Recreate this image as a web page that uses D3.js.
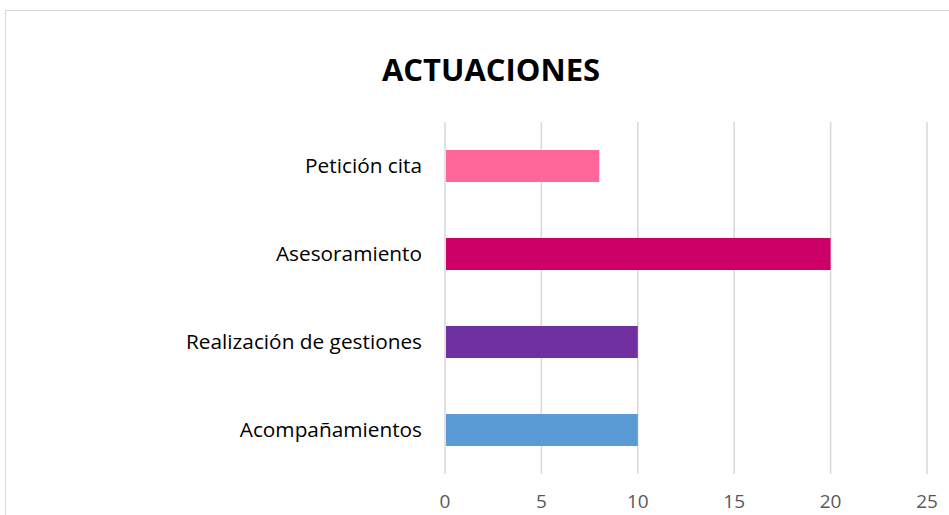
<!DOCTYPE html>
<html>
<head>
<meta charset="utf-8">
<script src="https://cdn.jsdelivr.net/npm/d3@7"></script>
<style>
  html, body { margin: 0; padding: 0; background: #fff; }
  svg { display: block; }
</style>
</head>
<body>
<svg id="chart" width="949" height="515"></svg>
<script>
// Actuaciones por tipo
const categories = ["Petición cita", "Asesoramiento", "Realización de gestiones", "Acompañamientos"];
const values = [8, 20, 10, 10];
const colors = ["#FF6699", "#CC0066", "#7030A0", "#5B9BD5"];
const tickValues = [0, 5, 10, 15, 20, 25];
const title = "ACTUACIONES";

const svg = d3.select("#chart");

// Chart area outline
svg.append("rect")
  .attr("x", 5.5).attr("y", 10.5)
  .attr("width", 1200).attr("height", 1200)
  .attr("fill", "#fff")
  .attr("stroke", "#D9D9D9").attr("stroke-width", 1);

const plot = { left: 445, right: 927, top: 122, bottom: 474 };

const x = d3.scaleLinear().domain([0, 25]).range([plot.left, plot.right]);
const y = d3.scaleBand().domain(categories).range([plot.top, plot.bottom]).paddingInner(0.636).paddingOuter(0.318);

// Vertical gridlines
svg.append("g")
  .selectAll("line")
  .data(tickValues)
  .join("line")
  .attr("x1", d => x(d)).attr("x2", d => x(d))
  .attr("y1", plot.top).attr("y2", plot.bottom)
  .attr("stroke", "#D9D9D9").attr("stroke-width", 1.5);

// Bars
svg.append("g")
  .selectAll("rect")
  .data(categories)
  .join("rect")
  .attr("x", x(0) + 1)
  .attr("y", d => y(d))
  .attr("width", (d, i) => x(values[i]) - x(0) - 1)
  .attr("height", y.bandwidth())
  .attr("fill", (d, i) => colors[i]);

// Category labels
svg.append("g")
  .selectAll("text")
  .data(categories)
  .join("text")
  .attr("x", plot.left - 23)
  .attr("y", d => y(d) + y.bandwidth() / 2)
  .attr("dy", "0.35em")
  .attr("text-anchor", "end")
  .attr("font-family", "'Open Sans', sans-serif")
  .attr("font-size", 20.8)
  .attr("fill", "#000")
  .text(d => d);

// Value axis tick labels
svg.append("g")
  .selectAll("text")
  .data(tickValues)
  .join("text")
  .attr("x", d => x(d))
  .attr("y", 501)
  .attr("dy", "0.35em")
  .attr("text-anchor", "middle")
  .attr("font-family", "'Open Sans', sans-serif")
  .attr("font-size", 19)
  .attr("fill", "#595959")
  .text(d => d);

// Title
svg.append("text")
  .attr("x", 491)
  .attr("y", 81)
  .attr("text-anchor", "middle")
  .attr("font-family", "'Open Sans', sans-serif")
  .attr("font-weight", "bold")
  .attr("font-size", 31)
  .attr("fill", "#000")
  .text(title);
</script>
</body>
</html>
